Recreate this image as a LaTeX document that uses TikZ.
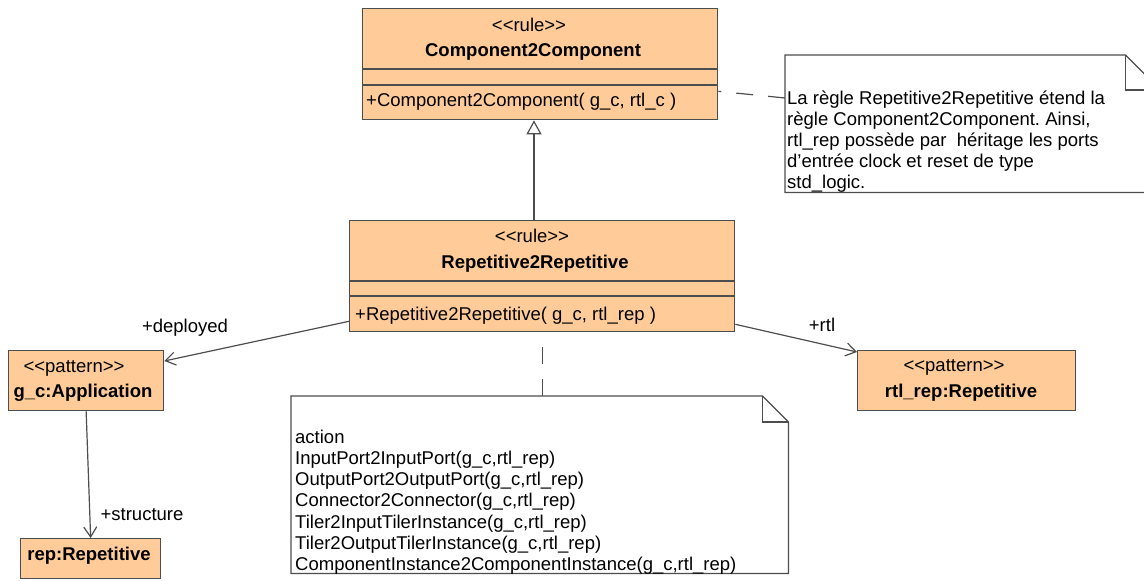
\documentclass[tikz,border=0pt]{standalone}
\usepackage{fontspec}
\setmainfont{Liberation Sans}
\usepackage{xcolor}
\usepackage{tikz}
\usetikzlibrary{arrows.meta, calc}

\definecolor{peach}{HTML}{FFCC99}
\definecolor{umlline}{HTML}{4D4D4D}
\newcommand{\stereo}[1]{<\kern0pt<#1>\kern0pt>}
\frenchspacing

\begin{document}
\begin{tikzpicture}[
    x=1pt, y=-1pt,
    every node/.style={font=\fontsize{18.5}{21.3}\selectfont, inner sep=0pt},
    cls/.style={draw=umlline, fill=peach, line width=1.3pt, anchor=north west},
    txt/.style={anchor=base},
    lbl/.style={anchor=base west},
    bold/.style={anchor=base, font=\fontsize{18.5}{21.3}\selectfont\bfseries},
    notebox/.style={anchor=north west},
    edge/.style={draw=umlline, line width=1.2pt},
    assoc/.style={edge, -{Straight Barb[length=10pt,width=13pt]}},
    gen/.style={edge, -{Triangle[length=14pt,width=15pt,fill=white]}},
    anchorline/.style={edge, dash pattern=on 17pt off 15pt},
  ]
    \useasboundingbox (0,0) rectangle (1144,581);

    % Component2Component
    \node[cls, minimum width=355pt, minimum height=111pt] (comp) at (362,8) {};
    \draw[edge] ($(comp.north west)+(0,61)$) -- ($(comp.north east)+(0,61)$);
    \draw[edge] ($(comp.north west)+(0,77)$) -- ($(comp.north east)+(0,77)$);
    \node[txt] (comps) at (529,31) {\stereo{rule}};
    \node[bold] (compn) at (533,56) {Component2Component};
    \node[lbl] (compo) at (366,106) {+Component2Component( g\_c, rtl\_c )};

    % Repetitive2Repetitive
    \node[cls, minimum width=385pt, minimum height=111pt] (rep) at (349,220) {};
    \draw[edge] ($(rep.north west)+(0,61)$) -- ($(rep.north east)+(0,61)$);
    \draw[edge] ($(rep.north west)+(0,76)$) -- ($(rep.north east)+(0,76)$);
    \node[txt] (reps) at (532,242) {\stereo{rule}};
    \node[bold] (repn) at (535,268) {Repetitive2Repetitive};
    \node[lbl] (repo) at (355,320) {+Repetitive2Repetitive( g\_c, rtl\_rep )};

    % patterns
    \node[cls, minimum width=155pt, minimum height=60pt] (gapp) at (8,350) {};
    \node[txt] (gapps) at (74,372) {\stereo{pattern}};
    \node[bold] (gappn) at (83,397) {g\_c:Application};

    \node[cls, minimum width=140pt, minimum height=40pt] (repinst) at (20,538) {};
    \node[bold] (repinstn) at (89,560) {rep:Repetitive};

    \node[cls, minimum width=218pt, minimum height=60pt] (rtlrep) at (857,350) {};
    \node[txt] (rtlreps) at (954,371) {\stereo{pattern}};
    \node[bold] (rtlrepn) at (961,397) {rtl\_rep:Repetitive};

    % note on inheritance
    \node[notebox, minimum width=375pt, minimum height=137pt] (note1) at (785,55) {};
    \draw[edge, fill=white] (note1.north west) -- ($(note1.north east)+(-35,0)$)
         -- ($(note1.north east)+(0,35)$) -- (note1.south east)
         -- (note1.south west) -- cycle;
    \draw[edge] ($(note1.north east)+(-35,0)$) |- ($(note1.north east)+(0,35)$);
    \foreach \ln [count=\i] in {La règle Repetitive2Repetitive étend la,
        {règle Component2Component. Ainsi,},
        rtl\_rep possède par\ \ héritage les ports,
        d’entrée clock et reset de type,
        std\_logic.}
      \node[lbl] (n1l\i) at (787, {104+21*(\i-1)}) {\ln};

    % note with actions
    \node[notebox, minimum width=497pt, minimum height=177pt] (note2) at (291,396) {};
    \draw[edge, fill=white] (note2.north west) -- ($(note2.north east)+(-26,0)$)
         -- ($(note2.north east)+(0,26)$) -- (note2.south east)
         -- (note2.south west) -- cycle;
    \draw[edge] ($(note2.north east)+(-26,0)$) |- ($(note2.north east)+(0,26)$);
    \foreach \ln [count=\i] in {action,
        {InputPort2InputPort(g\_c,rtl\_rep)},
        {OutputPort2OutputPort(g\_c,rtl\_rep)},
        {Connector2Connector(g\_c,rtl\_rep)},
        {Tiler2InputTilerInstance(g\_c,rtl\_rep)},
        {Tiler2OutputTilerInstance(g\_c,rtl\_rep)},
        {ComponentInstance2ComponentInstance(g\_c,rtl\_rep)}}
      \node[lbl] (n2l\i) at (295, {443+21.3*(\i-1)}) {\ln};

    % links
    \coordinate (gx) at (534,0);
    \draw[gen] (rep.north -| gx) -- (comp.south -| gx);
    \draw[anchorline] (note2.north -| rep.south) -- (rep.south);
    \draw[anchorline] ($(note1.north west)+(0,43)$) -- ($(comp.south east)+(0,-29)$);
    \draw[assoc] ($(rep.south west)+(0,-11)$) -- ($(gapp.north east)+(0,11)$);
    \draw[assoc] ($(rep.south east)+(0,-8)$) -- ($(rtlrep.north west)+(0,2)$);
    \draw[assoc] (gapp.south) -- (repinst.north);

    \node[txt] (ldep) at (185,332) {+deployed};
    \node[txt] (lstr) at (142,520) {+structure};
    \node[txt] (lrtl) at (822,331) {+rtl};
\end{tikzpicture}
\end{document}
